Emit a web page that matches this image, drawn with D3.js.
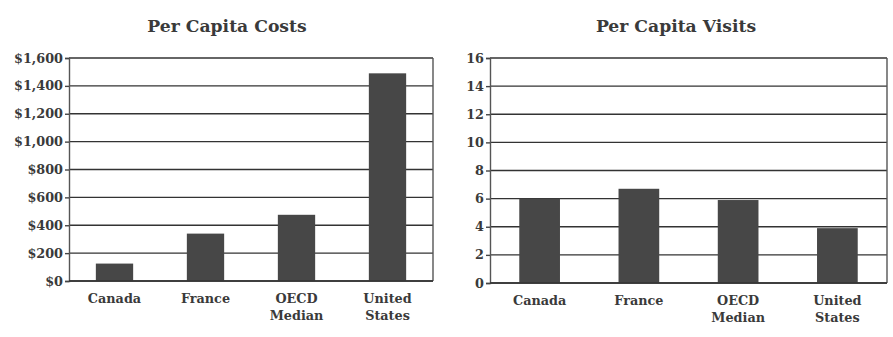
<!DOCTYPE html>
<html>
<head>
<meta charset="utf-8">
<script src="https://cdn.jsdelivr.net/npm/d3@7"></script>
<style>
  body { margin: 0; background: #fff; }
  text { font-family: "DejaVu Serif", serif; font-weight: bold; fill: #3a3a3a; }
</style>
</head>
<body>
<div id="chart"></div>
<script>
// categories (two-line labels)
const categories = ["Canada", "France", "OECD Median", "United States"];
const categoryLines = [["Canada"], ["France"], ["OECD", "Median"], ["United", "States"]];

// per capita costs (dollars)
const costs = [125, 340, 475, 1490];
const costTicks = [0, 200, 400, 600, 800, 1000, 1200, 1400, 1600];

// per capita visits
const visits = [6.0, 6.7, 5.9, 3.9];
const visitTicks = [0, 2, 4, 6, 8, 10, 12, 14, 16];

const width = 893, height = 337;

const svg = d3.select("#chart")
    .append("svg")
    .attr("width", width)
    .attr("height", height);

// draw one panel
function drawPanel(opts) {
    const { title, titleX, values, ticks, fmt, left, right, top, bottom } = opts;

    const x = d3.scaleBand()
        .domain(categories)
        .range([left, right])
        .paddingInner(0.59)
        .paddingOuter(0.295);

    const y = d3.scaleLinear()
        .domain([0, d3.max(ticks)])
        .range([bottom, top]);

    const g = svg.append("g");

    // title
    g.append("text")
        .attr("x", titleX)
        .attr("y", 32)
        .attr("text-anchor", "middle")
        .style("font-size", "17.2px")
        .text(title);

    // gridlines
    g.append("g")
        .selectAll("line")
        .data(ticks)
        .join("line")
        .attr("x1", left)
        .attr("x2", right)
        .attr("y1", d => y(d))
        .attr("y2", d => y(d))
        .attr("stroke", "#333")
        .attr("stroke-width", 1.4);

    // right border
    g.append("line")
        .attr("x1", right).attr("x2", right)
        .attr("y1", top).attr("y2", bottom)
        .attr("stroke", "#555")
        .attr("stroke-width", 1.4);

    // bars
    g.append("g")
        .selectAll("rect")
        .data(values)
        .join("rect")
        .attr("x", (d, i) => x(categories[i]))
        .attr("width", x.bandwidth())
        .attr("y", d => y(d))
        .attr("height", d => bottom - y(d))
        .attr("fill", "#474747");

    // y axis
    const yAxis = g.append("g")
        .attr("transform", `translate(${left},0)`)
        .call(d3.axisLeft(y).tickValues(ticks).tickFormat(fmt).tickSize(4).tickPadding(2));
    yAxis.select(".domain").attr("stroke", "#555").attr("stroke-width", 1.4);
    yAxis.selectAll(".tick line").attr("stroke", "#444").attr("stroke-width", 1.4);
    yAxis.selectAll(".tick text")
        .style("font-size", "12.8px")
        .attr("fill", "#3a3a3a")
        .style("font-family", "'DejaVu Serif', serif")
        .style("font-weight", "bold");

    // bottom axis line
    g.append("line")
        .attr("x1", left).attr("x2", right)
        .attr("y1", bottom).attr("y2", bottom)
        .attr("stroke", "#333")
        .attr("stroke-width", 1.6);

    // category labels
    const lab = g.append("g")
        .selectAll("text")
        .data(categories)
        .join("text")
        .attr("x", d => x(d) + x.bandwidth() / 2)
        .attr("y", bottom + 22)
        .attr("text-anchor", "middle")
        .style("font-size", "12.8px");
    lab.selectAll("tspan")
        .data((d, i) => categoryLines[i])
        .join("tspan")
        .attr("x", function () { return this.parentNode.getAttribute("x"); })
        .attr("dy", (d, i) => i === 0 ? 0 : 17)
        .text(d => d);
}

drawPanel({
    title: "Per Capita Costs",
    titleX: 227,
    values: costs,
    ticks: costTicks,
    fmt: d => "$" + d3.format(",")(d),
    left: 69, right: 433, top: 58, bottom: 281
});

drawPanel({
    title: "Per Capita Visits",
    titleX: 676,
    values: visits,
    ticks: visitTicks,
    fmt: d3.format("d"),
    left: 490, right: 887, top: 58, bottom: 283
});
</script>
</body>
</html>
